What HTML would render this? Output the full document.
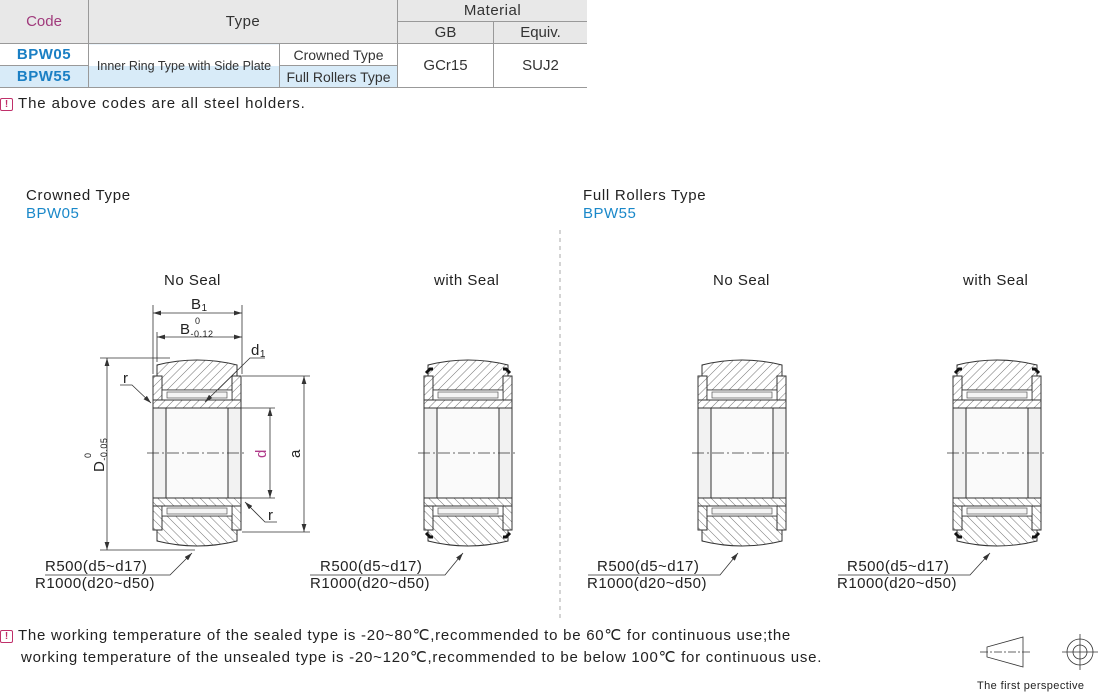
<!DOCTYPE html>
<html><head><meta charset="utf-8"><style>
body{margin:0;width:1110px;height:698px;background:#fff;overflow:hidden;font-family:"Liberation Sans",sans-serif;color:#222;position:relative}
.a{position:absolute;white-space:nowrap}
table{position:absolute;left:0;top:0;border-collapse:collapse;font-size:14px}
td{border:1px solid #999;text-align:center;padding:0;height:21px;color:#333}
.ic{display:inline-block;width:11px;height:11px;border:1.5px solid #c0306a;border-radius:2px;color:#c0306a;font-size:10px;line-height:11px;text-align:center;font-weight:bold;vertical-align:1px;margin-right:5px;letter-spacing:0}
</style></head><body>
<table>
<tr style="background:#e8e8e8"><td rowspan="2" style="width:88px;color:#a03a7c;font-size:15px;border-left:none;border-top:none">Code</td><td rowspan="2" colspan="2" style="width:308px;font-size:15px;border-top:none;letter-spacing:0.5px">Type</td><td colspan="2" style="font-size:15px;border-top:none;border-right:none;letter-spacing:0.5px">Material</td></tr>
<tr style="background:#e8e8e8"><td style="width:95px;font-size:15px">GB</td><td style="width:93px;font-size:15px;border-right:none">Equiv.</td></tr>
<tr><td style="color:#1a7fc4;font-weight:bold;font-size:15px;border-left:none;letter-spacing:0.5px">BPW05</td><td rowspan="2" style="width:190px;font-size:12.5px;background:linear-gradient(#fff 50%,#d8ebf8 50%)">Inner Ring Type with Side Plate</td><td style="width:117px">Crowned Type</td><td rowspan="2" style="font-size:15px">GCr15</td><td rowspan="2" style="border-right:none;font-size:15px">SUJ2</td></tr>
<tr style="background:#d8ebf8"><td style="color:#1a7fc4;font-weight:bold;font-size:15px;border-left:none;letter-spacing:0.5px">BPW55</td><td>Full Rollers Type</td></tr>
</table>
<div class="a" style="left:0;top:95px;font-size:15px;letter-spacing:0.9px"><span class="ic">!</span>The above codes are all steel holders.</div>
<div class="a" style="left:26px;top:187px;font-size:15px;letter-spacing:0.7px">Crowned Type</div>
<div class="a" style="left:26px;top:205px;font-size:15px;color:#1a88c9;letter-spacing:0.5px">BPW05</div>
<div class="a" style="left:583px;top:187px;font-size:15px;letter-spacing:0.7px">Full Rollers Type</div>
<div class="a" style="left:583px;top:205px;font-size:15px;color:#1a88c9;letter-spacing:0.5px">BPW55</div>
<div class="a" style="left:164px;top:272px;font-size:15px;letter-spacing:0.5px">No Seal</div>
<div class="a" style="left:434px;top:272px;font-size:15px;letter-spacing:0.5px">with Seal</div>
<div class="a" style="left:713px;top:272px;font-size:15px;letter-spacing:0.5px">No Seal</div>
<div class="a" style="left:963px;top:272px;font-size:15px;letter-spacing:0.5px">with Seal</div>
<div class="a" style="left:0;top:625px;font-size:15px;line-height:22px;letter-spacing:0.75px"><span class="ic">!</span>The working temperature of the sealed type is -20~80℃,recommended to be 60℃ for continuous use;the<br><span style="padding-left:21px">working temperature of the unsealed type is -20~120℃,recommended to be below 100℃ for continuous use.</span></div>
<div class="a" style="left:977px;top:680px;font-size:11px;letter-spacing:0.4px">The first perspective</div>
<svg class="a" style="left:0;top:0" width="1110" height="698" viewBox="0 0 1110 698">
<defs>
<pattern id="h" width="6" height="6" patternUnits="userSpaceOnUse" patternTransform="rotate(45)"><rect width="6" height="6" fill="#fff"/><line x1="0" y1="0" x2="0" y2="6" stroke="#555" stroke-width="0.8"/></pattern>
<g id="half">
<path d="M-40,-63 L-40,-88 Q0,-98 40,-88 L40,-63 Z" fill="url(#h)" stroke="#333" stroke-width="1"/>
<rect x="-44" y="-77" width="9" height="24" fill="url(#h)" stroke="#333" stroke-width="1"/>
<rect x="35" y="-77" width="9" height="24" fill="url(#h)" stroke="#333" stroke-width="1"/>
<rect x="-35" y="-63" width="70" height="10" fill="#fff" stroke="#333" stroke-width="0.8"/>
<rect x="-30" y="-61" width="60" height="6" fill="#f4f4f4" stroke="#555" stroke-width="0.7"/>
<rect x="-44" y="-53" width="88" height="8" fill="url(#h)" stroke="#333" stroke-width="1"/>
</g>
<g id="brg">
<use href="#half"/>
<use href="#half" transform="scale(1,-1)"/>
<rect x="-44" y="-45" width="88" height="90" fill="#f2f2f2" stroke="#333" stroke-width="1"/>
<rect x="-31" y="-45" width="62" height="90" fill="#fafafa" stroke="#333" stroke-width="1"/>
<line x1="-50" y1="0" x2="50" y2="0" stroke="#333" stroke-width="0.8" stroke-dasharray="12,3,2,3"/>
</g>
<g id="seal"><path d="M-42,-80 l4,-4 l3,0 M42,-80 l-4,-4 l-3,0 M-42,80 l4,4 l3,0 M42,80 l-4,4 l-3,0" stroke="#111" stroke-width="3" fill="none"/></g>
<marker id="ar" viewBox="0 0 10 6" refX="10" refY="3" markerWidth="10" markerHeight="6" orient="auto-start-reverse"><path d="M0,0 L10,3 L0,6 Z" fill="#333"/></marker>
</defs>
<use href="#brg" x="197" y="453"/>
<use href="#brg" x="468" y="453"/><use href="#seal" x="468" y="453"/>
<use href="#brg" x="742" y="453"/>
<use href="#brg" x="997" y="453"/><use href="#seal" x="997" y="453"/>
<line x1="560" y1="230" x2="560" y2="618" stroke="#aaa" stroke-dasharray="4,4"/>
<g stroke="#333" stroke-width="0.8" fill="none">
<line x1="153" y1="305" x2="153" y2="374"/><line x1="242" y1="305" x2="242" y2="374"/>
<line x1="157" y1="332" x2="157" y2="362"/>
<line x1="153" y1="313" x2="242" y2="313" marker-start="url(#ar)" marker-end="url(#ar)"/>
<line x1="157" y1="337" x2="242" y2="337" marker-start="url(#ar)" marker-end="url(#ar)"/>
<line x1="100" y1="358" x2="170" y2="358"/><line x1="100" y1="550" x2="195" y2="550"/>
<line x1="107" y1="358" x2="107" y2="550" marker-start="url(#ar)" marker-end="url(#ar)"/>
<line x1="242" y1="376" x2="310" y2="376"/><line x1="242" y1="532" x2="310" y2="532"/>
<line x1="304" y1="376" x2="304" y2="532" marker-start="url(#ar)" marker-end="url(#ar)"/>
<line x1="229" y1="408" x2="275" y2="408"/><line x1="229" y1="498" x2="275" y2="498"/>
<line x1="270" y1="408" x2="270" y2="498" marker-start="url(#ar)" marker-end="url(#ar)"/>
<path d="M120,385 L132,385 L151,403" marker-end="url(#ar)"/>
<path d="M277,522 L265,522 L245,502" marker-end="url(#ar)"/>
<path d="M265,358 L250,358 L205,402" marker-end="url(#ar)"/>
<path d="M45,575 L170,575 L192,553" marker-end="url(#ar)"/>
<path d="M310,575 L445,575 L463,553" marker-end="url(#ar)"/>
<path d="M588,575 L720,575 L738,553" marker-end="url(#ar)"/>
<path d="M838,575 L970,575 L990,553" marker-end="url(#ar)"/>
<path d="M987,647 L1023,637 L1023,667 L987,657 Z"/>
<line x1="980" y1="652" x2="1030" y2="652" stroke-dasharray="8,2,2,2"/>
<circle cx="1080" cy="652" r="13"/><circle cx="1080" cy="652" r="7"/>
<line x1="1062" y1="652" x2="1098" y2="652"/><line x1="1080" y1="634" x2="1080" y2="670"/>
</g>
<g font-family="Liberation Sans, sans-serif" font-size="15" fill="#222" letter-spacing="0.5">
<text x="191" y="309">B<tspan font-size="10" dy="2">1</tspan></text>
<text x="180" y="334">B<tspan font-size="9" dy="3">-0.12</tspan><tspan font-size="9" x="195" y="324">0</tspan></text>
<text x="251" y="355">d<tspan font-size="10" dy="2">1</tspan></text>
<text x="123" y="383">r</text><text x="268" y="520">r</text>
<text transform="translate(104,472) rotate(-90)">D<tspan font-size="9" dy="3">-0.05</tspan></text>
<text transform="translate(91,458) rotate(-90)" font-size="9">0</text>
<text transform="translate(266,458) rotate(-90)" fill="#b03a8a">d</text>
<text transform="translate(300,458) rotate(-90)">a</text>
<text x="45" y="571">R500(d5~d17)</text><text x="35" y="588">R1000(d20~d50)</text>
<text x="320" y="571">R500(d5~d17)</text><text x="310" y="588">R1000(d20~d50)</text>
<text x="597" y="571">R500(d5~d17)</text><text x="587" y="588">R1000(d20~d50)</text>
<text x="847" y="571">R500(d5~d17)</text><text x="837" y="588">R1000(d20~d50)</text>
</g>
</svg>
</body></html>
